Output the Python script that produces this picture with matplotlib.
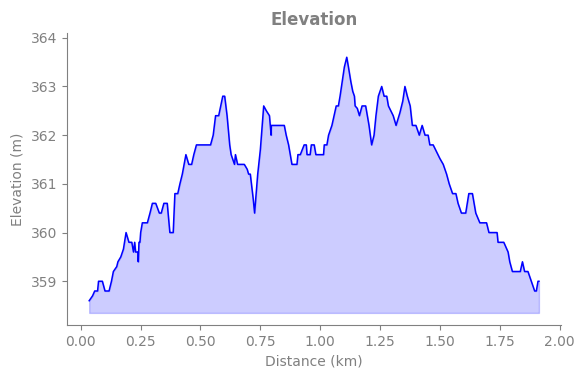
import matplotlib
matplotlib.use("Agg")
import matplotlib.pyplot as plt

# Distance along the track (km) and elevation (m)
distance_km = [
    0.035, 0.049, 0.058, 0.070, 0.074, 0.090, 0.101, 0.118, 0.128, 0.136,
    0.150, 0.155, 0.167, 0.178, 0.189, 0.201, 0.213, 0.220, 0.225, 0.229,
    0.239, 0.240, 0.243, 0.247, 0.250, 0.257, 0.278, 0.289, 0.299, 0.313,
    0.328, 0.336, 0.347, 0.361, 0.372, 0.386, 0.393, 0.405, 0.414, 0.424,
    0.439, 0.451, 0.463, 0.472, 0.483, 0.542, 0.553, 0.563, 0.576, 0.593,
    0.601, 0.611, 0.622, 0.628, 0.642, 0.646, 0.655, 0.683, 0.695, 0.701,
    0.708, 0.715, 0.720, 0.726, 0.739, 0.750, 0.764, 0.775, 0.788, 0.795,
    0.796, 0.850, 0.858, 0.868, 0.882, 0.903, 0.907, 0.917, 0.933, 0.942,
    0.945, 0.958, 0.963, 0.975, 0.982, 1.014, 1.017, 1.028, 1.035, 1.049,
    1.058, 1.067, 1.076, 1.083, 1.095, 1.101, 1.111, 1.118, 1.128, 1.136,
    1.143, 1.146, 1.155, 1.164, 1.175, 1.190, 1.197, 1.204, 1.215, 1.225,
    1.233, 1.243, 1.257, 1.267, 1.278, 1.285, 1.295, 1.305, 1.317, 1.333,
    1.345, 1.354, 1.364, 1.376, 1.385, 1.400, 1.414, 1.426, 1.438, 1.451,
    1.458, 1.472, 1.486, 1.500, 1.514, 1.528, 1.539, 1.553, 1.567, 1.576,
    1.590, 1.608, 1.621, 1.636, 1.650, 1.667, 1.695, 1.705, 1.739, 1.743,
    1.767, 1.785, 1.792, 1.803, 1.836, 1.845, 1.854, 1.868, 1.882, 1.896,
    1.903, 1.910, 1.914,
]
elevation_m = [
    358.6, 358.7, 358.8, 358.8, 359.0, 359.0, 358.8, 358.8, 359.0, 359.2,
    359.3, 359.4, 359.5, 359.66, 360.0, 359.8, 359.8, 359.6, 359.8, 359.6,
    359.6, 359.4, 359.8, 359.8, 360.0, 360.2, 360.2, 360.4, 360.6, 360.6,
    360.4, 360.4, 360.6, 360.6, 360.0, 360.0, 360.8, 360.8, 361.0, 361.2,
    361.6, 361.4, 361.4, 361.6, 361.8, 361.8, 362.0, 362.4, 362.4, 362.8,
    362.8, 362.4, 361.8, 361.6, 361.4, 361.6, 361.4, 361.4, 361.3, 361.2,
    361.2, 360.9, 360.7, 360.4, 361.2, 361.7, 362.6, 362.5, 362.4, 362.0,
    362.2, 362.2, 362.0, 361.8, 361.4, 361.4, 361.6, 361.6, 361.8, 361.8,
    361.6, 361.6, 361.8, 361.8, 361.6, 361.6, 361.8, 361.8, 362.0, 362.2,
    362.4, 362.6, 362.6, 362.8, 363.2, 363.4, 363.6, 363.4, 363.1, 362.9,
    362.8, 362.6, 362.55, 362.4, 362.6, 362.6, 362.4, 362.2, 361.8, 362.0,
    362.4, 362.8, 363.0, 362.8, 362.8, 362.6, 362.5, 362.4, 362.2, 362.46,
    362.7, 363.0, 362.8, 362.6, 362.2, 362.2, 362.0, 362.2, 362.0, 362.0,
    361.8, 361.8, 361.66, 361.52, 361.4, 361.2, 361.0, 360.8, 360.8, 360.6,
    360.4, 360.4, 360.8, 360.8, 360.4, 360.2, 360.2, 360.0, 360.0, 359.8,
    359.8, 359.6, 359.4, 359.2, 359.2, 359.4, 359.2, 359.2, 359.0, 358.8,
    358.8, 359.0, 359.0,
]

grey = "#808080"
lowest = min(elevation_m)
highest = max(elevation_m)

fig, ax = plt.subplots(figsize=(5.8, 3.78), dpi=100)
fig.subplots_adjust(left=0.115, right=0.968, bottom=0.14, top=0.913)

ax.plot(distance_km, elevation_m, color="blue", linewidth=1.1)
ax.fill_between(distance_km, elevation_m, lowest - 0.25, color="blue", alpha=0.2)

ax.set_ylim(lowest - 0.5, highest + 0.5)
ax.set_title("Elevation", fontsize=12, fontweight="bold", color=grey)
ax.set_xlabel("Distance (km)", color=grey)
ax.set_ylabel("Elevation (m)", color=grey)

for side in ["top", "right"]:
    ax.spines[side].set_visible(False)
for side in ["left", "bottom"]:
    ax.spines[side].set_color(grey)
ax.tick_params(colors=grey)

fig.savefig("out.png", dpi=100)
